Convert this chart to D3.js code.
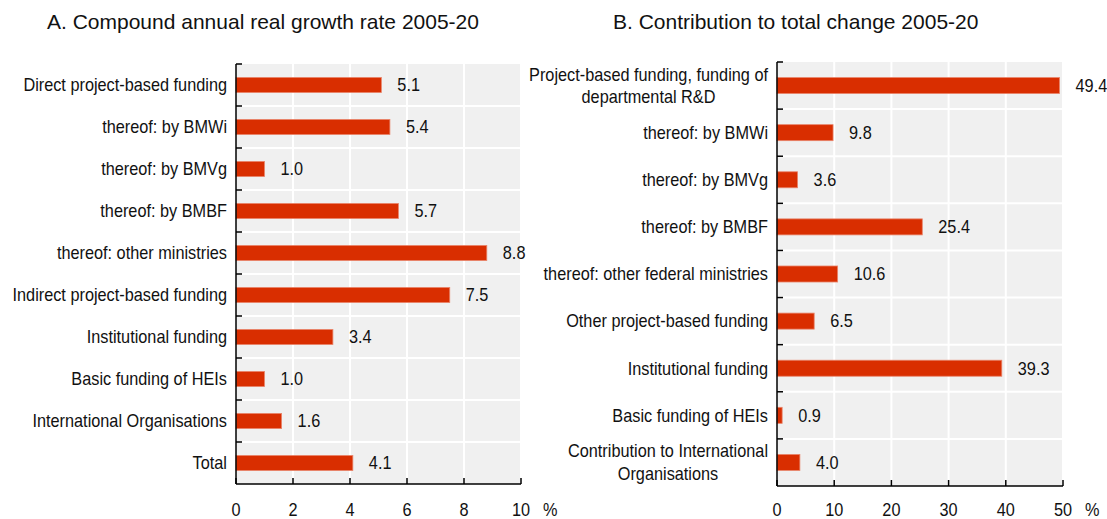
<!DOCTYPE html>
<html>
<head>
<meta charset="utf-8">
<script src="https://cdn.jsdelivr.net/npm/d3@7"></script>
<style>
  body { margin: 0; background: #fff; }
  svg { display: block; }
  .lbl { font-family: "Liberation Sans", Arial, sans-serif; font-size: 18px; fill: #111; }
  .ttl { font-family: "Liberation Sans", Arial, sans-serif; font-size: 21px; fill: #111; }
  .tick-lbl { font-family: "Liberation Sans", Arial, sans-serif; font-size: 18px; fill: #111; }
</style>
</head>
<body>
<svg id="chart" width="1107" height="519"></svg>
<script>
// Panel A: compound annual real growth rate 2005-20
var catsA = ["Direct project-based funding", "thereof: by BMWi", "thereof: by BMVg", "thereof: by BMBF",
    "thereof: other ministries", "Indirect project-based funding", "Institutional funding",
    "Basic funding of HEIs", "International Organisations", "Total"];
var valsA = [5.1, 5.4, 1.0, 5.7, 8.8, 7.5, 3.4, 1.0, 1.6, 4.1];
var ticksA = [0, 2, 4, 6, 8, 10];

// Panel B: contribution to total change 2005-20
var catsB = ["Project-based funding, funding of|departmental R&D", "thereof: by BMWi", "thereof: by BMVg",
    "thereof: by BMBF", "thereof: other federal ministries", "Other project-based funding",
    "Institutional funding", "Basic funding of HEIs", "Contribution to International|Organisations"];
var valsB = [49.4, 9.8, 3.6, 25.4, 10.6, 6.5, 39.3, 0.9, 4.0];
var ticksB = [0, 10, 20, 30, 40, 50];

var SX = 0.905; // narrow the label font horizontally
var svg = d3.select('svg#chart');

function panel(cfg) {
    var g = svg.append('g');
    var x = d3.scaleLinear().domain(cfg.domain).range(cfg.xr);
    var y = d3.scaleBand().domain(cfg.cats).range(cfg.yr);
    var bw = y.bandwidth();

    // background
    g.append('rect')
        .attr('x', cfg.xr[0]).attr('y', cfg.yr[0])
        .attr('width', cfg.xr[1] - cfg.xr[0]).attr('height', cfg.yr[1] - cfg.yr[0])
        .attr('fill', '#f0f0f0');
    // white grid
    g.selectAll('line.vg').data(cfg.ticks.slice(1)).enter().append('line')
        .attr('x1', d => x(d)).attr('x2', d => x(d))
        .attr('y1', cfg.yr[0]).attr('y2', cfg.yr[1])
        .attr('stroke', '#fff').attr('stroke-width', 2);
    g.selectAll('line.hg').data(cfg.cats.slice(1)).enter().append('line')
        .attr('x1', cfg.xr[0]).attr('x2', cfg.xr[1])
        .attr('y1', d => y(d)).attr('y2', d => y(d))
        .attr('stroke', '#fff').attr('stroke-width', 2);

    // bars
    var bh = bw * cfg.barFrac;
    g.selectAll('rect.bar').data(cfg.vals).enter().append('rect')
        .attr('class', 'bar')
        .attr('x', x(0))
        .attr('y', (d, i) => y(cfg.cats[i]) + (bw - bh) / 2)
        .attr('width', d => x(d) - x(0))
        .attr('height', bh)
        .attr('fill', '#d92e00')
        .attr('stroke', '#e9856b').attr('stroke-width', 0.8);

    // value labels
    g.selectAll('text.val').data(cfg.vals).enter().append('text')
        .attr('class', 'lbl')
        .attr('transform', (d, i) => 'translate(' + (x(d) + 16) + ',' + (y(cfg.cats[i]) + bw / 2) + ') scale(' + SX + ',1)')
        .attr('dy', '0.35em')
        .text(d => d.toFixed(1));

    // category labels
    cfg.cats.forEach(function (c) {
        var lines = c.split('|');
        var cy = y(c) + bw / 2;
        var lg = g.append('g')
            .attr('transform', 'translate(' + (cfg.xr[0] - 9) + ',' + cy + ') scale(' + SX + ',1)');
        if (lines.length == 1) {
            lg.append('text').attr('class', 'lbl')
                .attr('dy', '0.35em')
                .attr('text-anchor', 'end').text(c);
        } else {
            var t = lg.append('text').attr('class', 'lbl').attr('text-anchor', 'middle');
            var tmp = t.append('tspan').text(lines[0]);
            var w0 = tmp.node().getComputedTextLength();
            tmp.remove();
            lines.forEach(function (l, i) {
                t.append('tspan').attr('x', -w0 / 2)
                    .attr('y', (i - (lines.length - 1) / 2) * 22.5)
                    .attr('dy', '0.35em').text(l);
            });
        }
    });

    // left axis line with ticks at band boundaries
    g.append('line')
        .attr('x1', cfg.xr[0]).attr('x2', cfg.xr[0])
        .attr('y1', cfg.yr[0]).attr('y2', cfg.yr[1])
        .attr('stroke', '#000').attr('stroke-width', 1.5);
    var bounds = cfg.cats.map(d => y(d));
    g.selectAll('line.yt').data(bounds).enter().append('line')
        .attr('x1', cfg.xr[0]).attr('x2', cfg.xr[0] + 6)
        .attr('y1', d => d).attr('y2', d => d)
        .attr('stroke', '#000').attr('stroke-width', 1.5);

    // bottom axis
    g.append('line')
        .attr('x1', cfg.xr[0]).attr('x2', cfg.xr[1])
        .attr('y1', cfg.yr[1]).attr('y2', cfg.yr[1])
        .attr('stroke', '#000').attr('stroke-width', 1.5);
    g.selectAll('line.xt').data(cfg.ticks).enter().append('line')
        .attr('x1', d => x(d)).attr('x2', d => x(d))
        .attr('y1', cfg.yr[1]).attr('y2', cfg.yr[1] - 6)
        .attr('stroke', '#000').attr('stroke-width', 1.5);
    g.selectAll('text.xl').data(cfg.ticks).enter().append('text')
        .attr('class', 'tick-lbl')
        .attr('transform', d => 'translate(' + x(d) + ',516) scale(' + SX + ',1)')
        .attr('text-anchor', 'middle')
        .text(d => d);
    g.append('text').attr('class', 'tick-lbl')
        .attr('transform', 'translate(' + (x(cfg.domain[1]) + 22) + ',516) scale(' + SX + ',1)')
        .text('%');

    // title
    g.append('text').attr('class', 'ttl')
        .attr('x', cfg.titleX).attr('y', 29)
        .text(cfg.title);
}

panel({
    cats: catsA, vals: valsA, ticks: ticksA, domain: [0, 10],
    xr: [236, 521], yr: [64, 484], barFrac: 0.36,
    title: 'A. Compound annual real growth rate 2005-20', titleX: 47
});
panel({
    cats: catsB, vals: valsB, ticks: ticksB, domain: [0, 50],
    xr: [777, 1063], yr: [62, 486], barFrac: 0.34,
    title: 'B. Contribution to total change 2005-20', titleX: 613
});
</script>
</body>
</html>
